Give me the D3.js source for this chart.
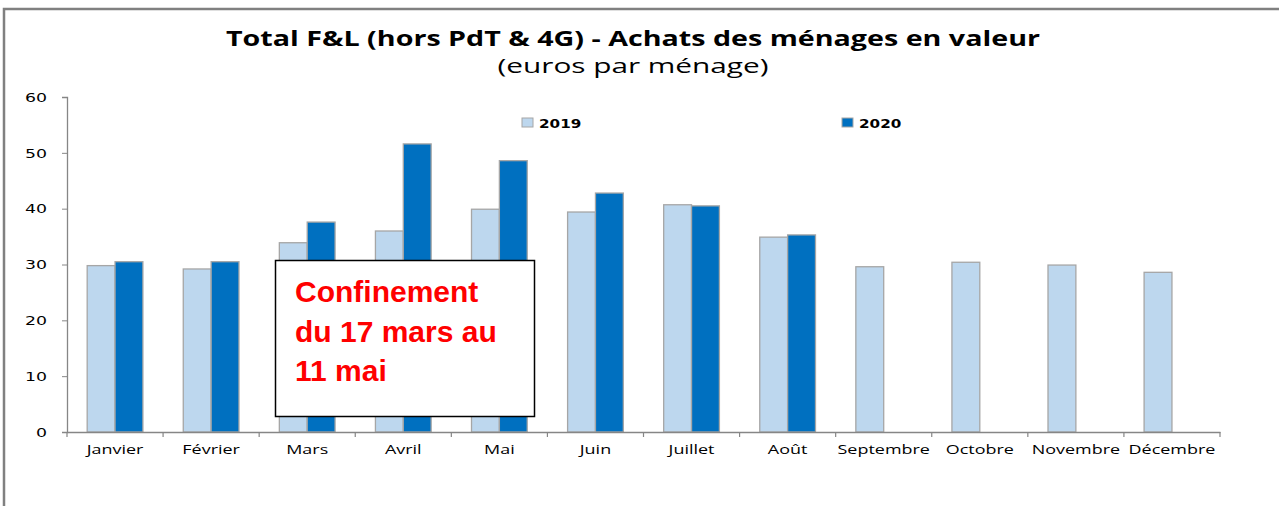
<!DOCTYPE html>
<html>
<head>
<meta charset="utf-8">
<script src="https://cdn.jsdelivr.net/npm/d3@7"></script>
<style>
  body { margin: 0; background: #fff; }
  svg { display: block; }
</style>
</head>
<body>
<svg id="chart"></svg>
<script>
const months = ["Janvier", "Février", "Mars", "Avril", "Mai", "Juin", "Juillet", "Août",
  "Septembre", "Octobre", "Novembre", "Décembre"];
const years = ["2019", "2020"];
const values2019 = [29.8, 29.2, 33.9, 36.0, 39.9, 39.4, 40.7, 34.9, 29.6, 30.4, 29.9, 28.6];
const values2020 = [30.5, 30.5, 37.6, 51.6, 48.6, 42.8, 40.5, 35.3, null, null, null, null];
const yTicks = [0, 10, 20, 30, 40, 50, 60];
const noteLines = ["Confinement", "du 17 mars au", "11 mai"];

const width = 1279, height = 506;
const margin = {top: 97, right: 59, bottom: 74, left: 67};
const colors = {"2019": "#bdd7ee", "2020": "#0070c0"};
const stretch = 1.33; // le graphique d'origine est étiré en largeur

const svg = d3.select("#chart").attr("width", width).attr("height", height);

// cadre
svg.append("rect")
  .attr("x", 4).attr("y", 9)
  .attr("width", width + 10).attr("height", height + 10)
  .attr("fill", "none").attr("stroke", "#808080").attr("stroke-width", 2.5);

// titre
svg.append("text")
  .attr("x", 633).attr("y", 46)
  .attr("text-anchor", "middle")
  .attr("font-family", "Open Sans").attr("font-weight", "bold").attr("font-size", 21)
  .attr("fill", "#000")
  .attr("textLength", 814).attr("lengthAdjust", "spacingAndGlyphs")
  .text("Total F&L (hors PdT & 4G) - Achats des ménages en valeur");
svg.append("text")
  .attr("x", 633).attr("y", 73)
  .attr("text-anchor", "middle")
  .attr("font-family", "Open Sans").attr("font-size", 20)
  .attr("fill", "#000")
  .attr("textLength", 271).attr("lengthAdjust", "spacingAndGlyphs")
  .text("(euros par ménage)");

const data = months.map((m, i) => ({month: m, "2019": values2019[i], "2020": values2020[i]}));

const g = svg.append("g").attr("transform", `translate(${margin.left}, ${margin.top})`);
const iw = width - margin.left - margin.right;
const ih = height - margin.top - margin.bottom;

const x0 = d3.scaleBand().domain(months).range([0, iw]).padding(0);
const gap = x0.bandwidth() * 0.42;
const x1 = d3.scaleBand().domain(years).range([gap / 2, x0.bandwidth() - gap / 2]).padding(0);
const y = d3.scaleLinear().domain([0, 60]).range([ih, 0]);

// barres
const groups = g.selectAll("g.month").data(data).enter().append("g")
  .attr("class", "month")
  .attr("transform", d => `translate(${x0(d.month)}, 0)`);

groups.selectAll("rect")
  .data(d => years.filter(k => d[k] != null).map(k => ({key: k, value: d[k]})))
  .enter().append("rect")
  .attr("x", d => x1(d.key))
  .attr("y", d => y(d.value))
  .attr("width", x1.bandwidth())
  .attr("height", d => ih - y(d.value))
  .attr("fill", d => colors[d.key])
  .attr("stroke", "#a6a6a6")
  .attr("stroke-width", 1.3);

// axes
const yaxis = d3.axisLeft(y).tickValues(yTicks).tickSize(5).tickPadding(0);
const ya = g.append("g").call(yaxis);
ya.select(".domain").attr("stroke", "#868686").attr("stroke-width", 1.3);
ya.selectAll(".tick line").attr("stroke", "#868686");
ya.selectAll("text")
  .attr("x", 0)
  .attr("transform", `translate(-20, 0) scale(${stretch}, 1)`)
  .attr("font-family", "DejaVu Sans").attr("font-size", 13).attr("fill", "#000");

const xaxis = d3.axisBottom(x0).tickSize(0).tickPadding(12);
const xa = g.append("g").attr("transform", `translate(0, ${ih})`).call(xaxis);
xa.select(".domain").attr("stroke", "#868686").attr("stroke-width", 1.3);
xa.selectAll("text")
  .attr("transform", `scale(${stretch}, 1)`)
  .attr("font-family", "Open Sans").attr("font-size", 13.5).attr("fill", "#000");
// graduations entre les catégories
xa.selectAll("line.sep").data(months.concat(["end"])).enter().append("line")
  .attr("class", "sep")
  .attr("x1", (d, i) => i * x0.step()).attr("x2", (d, i) => i * x0.step())
  .attr("y1", 0).attr("y2", 5)
  .attr("stroke", "#868686").attr("stroke-width", 1.2);

// légende
const legendX = {"2019": 522, "2020": 842};
years.forEach(k => {
  svg.append("rect")
    .attr("x", legendX[k]).attr("y", 118)
    .attr("width", 11).attr("height", 9)
    .attr("fill", colors[k]).attr("stroke", "#a6a6a6").attr("stroke-width", 1);
  svg.append("text")
    .attr("transform", `translate(${legendX[k] + 17}, 128) scale(1.17, 1)`)
    .attr("font-family", "DejaVu Sans").attr("font-weight", "bold").attr("font-size", 13)
    .attr("fill", "#000")
    .text(k);
});

// encadré confinement
svg.append("rect")
  .attr("x", 275.5).attr("y", 260.5)
  .attr("width", 259).attr("height", 156)
  .attr("fill", "#fff").attr("stroke", "#000").attr("stroke-width", 1.5);
svg.append("g").selectAll("text").data(noteLines).enter().append("text")
  .attr("x", 295)
  .attr("y", (d, i) => 302 + i * 39.5)
  .attr("font-family", "Liberation Sans").attr("font-weight", "bold").attr("font-size", 30)
  .attr("fill", "#ff0000")
  .text(d => d);
</script>
</body>
</html>
